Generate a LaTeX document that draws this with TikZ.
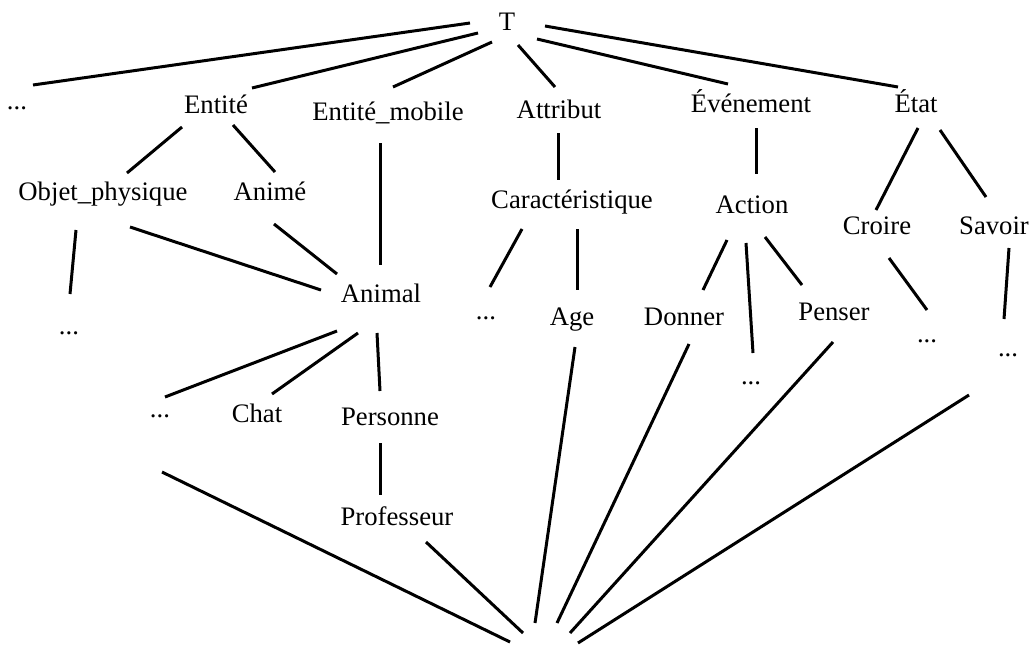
\documentclass[tikz,border=0pt]{standalone}
\usepackage{fontspec}
\setmainfont{Liberation Serif}
\usetikzlibrary{calc}
\tikzset{
  lbl/.style={anchor=base, inner sep=0pt, font=\fontsize{26.7}{32}\selectfont},
  link/.style={line width=3pt, line cap=butt},
}
% one edge: start point and end point given as offsets from two named anchors
\newcommand\lnk[4]{\draw[link] ($(#1)+(#2)$) -- ($(#3)+(#4)$);}
\begin{document}
\begin{tikzpicture}[x=1pt, y=-1pt]
\useasboundingbox (0,0) rectangle (1032,645);

% top level
\node[lbl] (T)    at (507,30)  {T};
\node[lbl] (dL)   at (17,109)  {...};
\node[lbl] (Ent)  at (216,113) {Entité};
\node[lbl] (EM)   at (388,120) {Entité\_mobile};
\node[lbl] (Att)  at (559,118) {Attribut};
\node[lbl] (Ev)   at (751,112) {Événement};
\node[lbl] (Et)   at (916,112) {État};

% second level
\node[lbl] (OP)   at (103,200) {Objet\_physique};
\node[lbl] (An)   at (270,200) {Animé};
\node[lbl] (Car)  at (572,208) {Caractéristique};
\node[lbl] (Act)  at (752,213) {Action};
\node[lbl] (Cr)   at (877,234) {Croire};
\node[lbl] (Sav)  at (994,234) {Savoir};

% third level
\node[lbl] (dOP)  at (69,334)  {...};
\node[lbl] (Anl)  at (381,302) {Animal};
\node[lbl] (dCar) at (486,319) {...};
\node[lbl] (Age)  at (572,325) {Age};
\node[lbl] (Don)  at (684,325) {Donner};
\node[lbl] (Pen)  at (834,320) {Penser};
\node[lbl] (dAct) at (751,384) {...};
\node[lbl] (dCr)  at (927,342) {...};
\node[lbl] (dSav) at (1008,356) {...};

% below Animal
\node[lbl] (dAnl) at (160,417) {...};
\node[lbl] (Chat) at (257,422) {Chat};
\node[lbl] (Pers) at (390,425) {Personne};
\node[lbl] (Prof) at (397,525) {Professeur};

% bottom element, where the lowest edges meet
\coordinate (bot) at (540,663);

% edges from T
\lnk{T.base}{-37,-7}{dL.base}{16,-24}
\lnk{T.base}{-29,3}{Ent.base}{36,-25}
\lnk{T.base}{-15,12}{EM.base}{5,-33}
\lnk{T.base}{11,15}{Att.base}{-4,-31}
\lnk{T.base}{30,9}{Ev.base}{-23,-28}
\lnk{T.base}{38,-4}{Et.base}{-18,-25}

% Entité branch
\lnk{Ent.base}{-34,14}{OP.base}{24,-27}
\lnk{Ent.base}{17,12}{An.base}{5,-28}
\lnk{EM.base}{-8,23}{Anl.base}{-1,-37}
\lnk{OP.base}{-27,30}{dOP.base}{1,-40}
\lnk{OP.base}{27,27}{Anl.base}{-60,-12}
\lnk{An.base}{4,24}{Anl.base}{-44,-28}

% Attribut branch
\lnk{Att.base}{-1,15}{Car.base}{-14,-28}
\lnk{Car.base}{-50,21}{dCar.base}{4,-32}
\lnk{Car.base}{5,21}{Age.base}{5,-35}

% Événement branch
\lnk{Ev.base}{5,16}{Act.base}{4,-39}
\lnk{Act.base}{-25,27}{Don.base}{19,-35}
\lnk{Act.base}{-6,30}{dAct.base}{2,-31}
\lnk{Act.base}{13,24}{Pen.base}{-32,-35}

% État branch
\lnk{Et.base}{2,16}{Cr.base}{-1,-24}
\lnk{Et.base}{24,18}{Sav.base}{-8,-37}
\lnk{Cr.base}{12,24}{dCr.base}{0,-32}
\lnk{Sav.base}{15,14}{dSav.base}{-4,-37}

% Animal branch
\lnk{Anl.base}{-44,29}{dAnl.base}{5,-20}
\lnk{Anl.base}{-23,31}{Chat.base}{15,-28}
\lnk{Anl.base}{-4,31}{Pers.base}{-10,-34}
\lnk{Pers.base}{-10,18}{Prof.base}{-17,-30}

% edges down to the bottom element
\lnk{dAnl.base}{2,55}{bot}{-30,-21}
\lnk{Prof.base}{29,17}{bot}{-17,-30}
\lnk{Age.base}{3,22}{bot}{-5,-40}
\lnk{Don.base}{5,19}{bot}{17,-40}
\lnk{Pen.base}{-1,22}{bot}{30,-30}
\lnk{dSav.base}{-39,39}{bot}{38,-20}
\end{tikzpicture}
\end{document}
